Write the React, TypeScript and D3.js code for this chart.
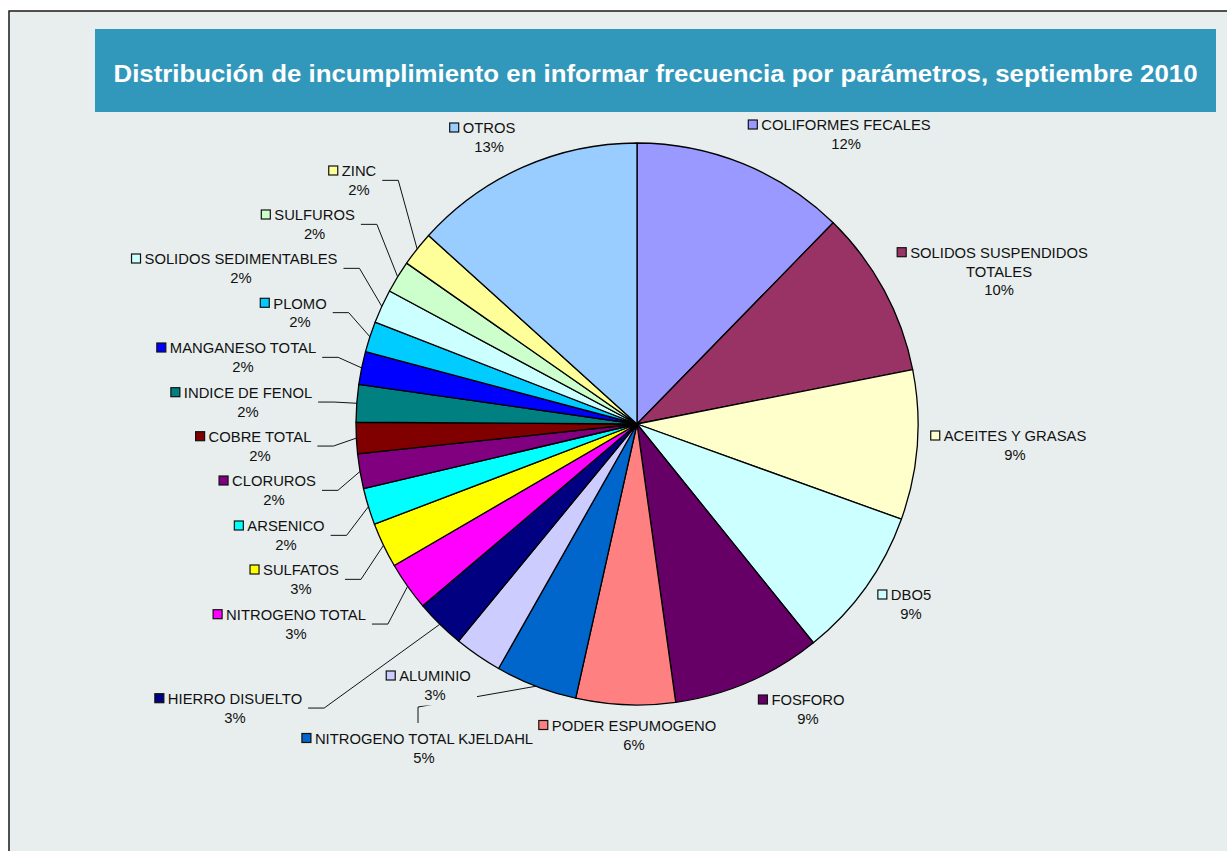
import React, { useRef, useEffect } from 'react';
import * as d3 from 'd3';

const title = 'Distribución de incumplimiento en informar frecuencia por parámetros, septiembre 2010';

const categories = [
  'COLIFORMES FECALES',
  'SOLIDOS SUSPENDIDOS TOTALES',
  'ACEITES Y GRASAS',
  'DBO5',
  'FOSFORO',
  'PODER ESPUMOGENO',
  'NITROGENO TOTAL KJELDAHL',
  'ALUMINIO',
  'HIERRO DISUELTO',
  'NITROGENO TOTAL',
  'SULFATOS',
  'ARSENICO',
  'CLORUROS',
  'COBRE TOTAL',
  'INDICE DE FENOL',
  'MANGANESO TOTAL',
  'PLOMO',
  'SOLIDOS SEDIMENTABLES',
  'SULFUROS',
  'ZINC',
  'OTROS',
];

const values = [
  12.3, 9.6, 8.6, 8.7, 8.6, 5.7, 4.7, 2.75, 2.85, 2.8, 2.6,
  2.1, 2.0, 1.8, 2.15, 1.9, 1.75, 1.95, 1.85, 2.0, 13.3,
];

const colors = [
  '#9999FF', '#993366', '#FFFFCC', '#CCFFFF', '#660066', '#FF8080',
  '#0066CC', '#CCCCFF', '#000080', '#FF00FF', '#FFFF00', '#00FFFF',
  '#800080', '#800000', '#008080', '#0000FF', '#00CCFF', '#CCFFFF',
  '#CCFFCC', '#FFFF99', '#99CCFF',
];

// label placement (centre of name text, centre of first line), as in the original sheet
const labelPos: { x: number; y: number; leader?: string; br?: number }[] = [
  { x: 846, y: 125 },
  { x: 999, y: 252.7, br: 2 },
  { x: 1015, y: 436 },
  { x: 911, y: 595 },
  { x: 808, y: 700 },
  { x: 634, y: 725.5 },
  { x: 424, y: 738.5, leader: 'drop' },
  { x: 435, y: 676 },
  { x: 235, y: 698.7, leader: 'elbow' },
  { x: 296, y: 614.7, leader: 'elbow' },
  { x: 301, y: 570, leader: 'elbow' },
  { x: 286, y: 526, leader: 'elbow' },
  { x: 274, y: 481, leader: 'elbow' },
  { x: 260, y: 436.7, leader: 'elbow' },
  { x: 248, y: 392.7, leader: 'elbow' },
  { x: 243, y: 348, leader: 'elbow' },
  { x: 300, y: 303.3, leader: 'elbow' },
  { x: 241, y: 259, leader: 'elbow' },
  { x: 314.6, y: 215, leader: 'elbow' },
  { x: 359, y: 171, leader: 'elbow' },
  { x: 489, y: 128 },
];

export default function App() {
  const ref = useRef<SVGSVGElement>(null);

  useEffect(() => {
    document.body.style.margin = '0';
    const width = 1227;
    const height = 851;
    const cx = 637;
    const cy = 424;
    const radius = 281;
    const font = '"Liberation Sans", Arial, sans-serif';
    const fontSize = 14.8;
    const lineH = 18.7;

    const svg = d3.select(ref.current);
    svg.selectAll('*').remove();

    // chart area
    svg.append('rect')
      .attr('x', 9).attr('y', 11)
      .attr('width', width + 20).attr('height', height + 20)
      .attr('fill', '#E8EEEE')
      .attr('stroke', '#1a1a1a').attr('stroke-width', 1.5);

    // title band
    svg.append('rect')
      .attr('x', 95).attr('y', 29)
      .attr('width', 1121).attr('height', 83)
      .attr('fill', '#3298BB');
    svg.append('text')
      .attr('x', 655.5).attr('y', 82)
      .attr('text-anchor', 'middle')
      .attr('font-family', font)
      .attr('font-weight', 'bold')
      .attr('font-size', 24.5)
      .attr('textLength', 1084)
      .attr('lengthAdjust', 'spacingAndGlyphs')
      .attr('fill', '#fff')
      .text(title);

    const total = d3.sum(values);
    const arcs = d3.pie<number>().sort(null).value((d) => d)(values);
    const arc = d3.arc<d3.PieArcDatum<number>>().innerRadius(0).outerRadius(radius);
    const edgePoint = (d: d3.PieArcDatum<number>) => {
      const a = (d.startAngle + d.endAngle) / 2;
      return [cx + radius * Math.sin(a), cy - radius * Math.cos(a)];
    };

    svg.append('g')
      .attr('transform', `translate(${cx},${cy})`)
      .selectAll('path')
      .data(arcs)
      .join('path')
      .attr('d', arc)
      .attr('fill', (d) => colors[d.index])
      .attr('stroke', '#000')
      .attr('stroke-width', 1.3)
      .attr('stroke-linejoin', 'round');

    const leaders = svg.append('g').attr('fill', 'none').attr('stroke', '#111').attr('stroke-width', 1);
    const masks = svg.append('g');
    const elbowLeaders = svg.append('g').attr('fill', 'none').attr('stroke', '#111').attr('stroke-width', 1);
    const labels = svg.append('g')
      .attr('font-family', font)
      .attr('font-size', fontSize)
      .attr('fill', '#111')
      .attr('text-anchor', 'middle');

    arcs.forEach((d) => {
      const i = d.index;
      const pos = labelPos[i];
      const words = categories[i].split(' ');
      const lines = pos.br
        ? [words.slice(0, pos.br).join(' '), words.slice(pos.br).join(' ')]
        : [categories[i]];
      lines.push(Math.round((values[i] / total) * 100) + '%');

      let nameW = 0;
      lines.forEach((t, k) => {
        const el = labels.append('text')
          .attr('x', pos.x)
          .attr('y', pos.y + k * lineH + fontSize * 0.36)
          .text(t);
        if (k === 0) nameW = (el.node() as SVGTextElement).getComputedTextLength();
      });

      labels.append('rect')
        .attr('x', pos.x - nameW / 2 - 13)
        .attr('y', pos.y - 5)
        .attr('width', 9).attr('height', 9)
        .attr('fill', colors[i])
        .attr('stroke', '#111').attr('stroke-width', 1.2);

      const [ex, ey] = edgePoint(d);
      if (pos.leader === 'elbow') {
        const x0 = pos.x + nameW / 2 + 6;
        const ly = pos.y + lineH / 2;
        elbowLeaders.append('path')
          .attr('d', d3.line()([[x0, ly], [x0 + 16, ly], [ex, ey]]));
      } else if (pos.leader === 'drop') {
        leaders.append('path')
          .attr('d', d3.line()([[ex, ey], [pos.x - 6, pos.y - 31.5], [pos.x - 6, pos.y - 15.5]]));
      }
    });

    // the ALUMINIO label box hides part of the leader that runs behind it
    const al = labelPos[7];
    masks.append('rect')
      .attr('x', al.x - 52).attr('y', al.y - 11)
      .attr('width', 94).attr('height', 40.5)
      .attr('fill', '#E8EEEE');
  }, []);

  return <svg ref={ref} width={1227} height={851} style={{ display: 'block' }} />;
}
